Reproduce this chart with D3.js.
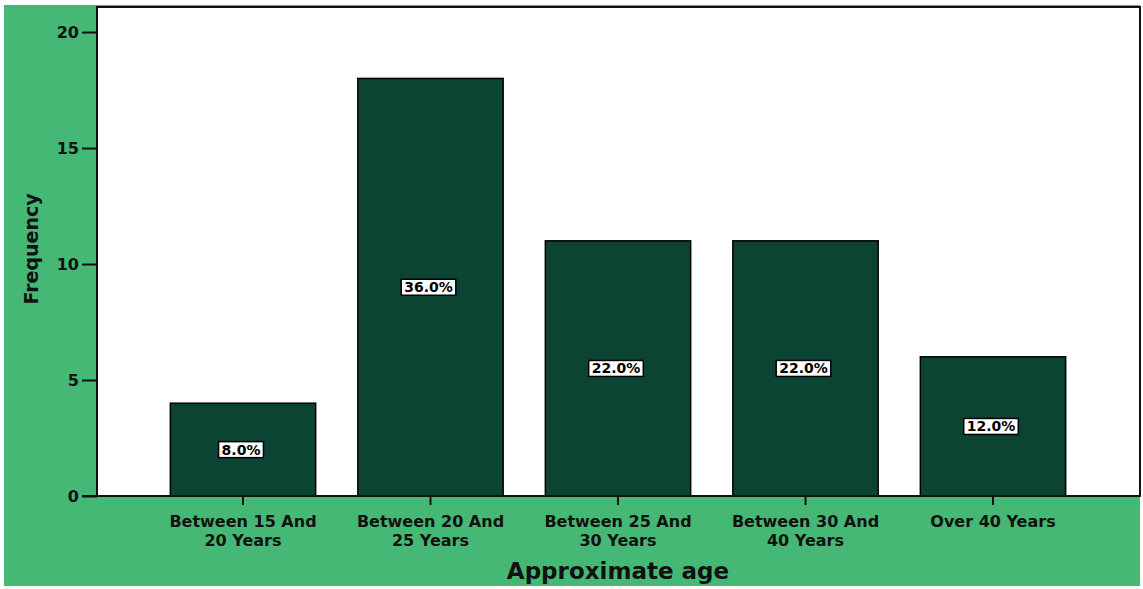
<!DOCTYPE html>
<html><head><meta charset="utf-8">
<script src="https://cdn.jsdelivr.net/npm/d3@7"></script>
<style>body{margin:0;background:#fff;}svg{display:block;}text{font-family:"DejaVu Sans",sans-serif;font-weight:bold;}</style>
</head><body>
<svg id="c" width="1143" height="589"></svg>
<script>
const categories = [["Between 15 And","20 Years"],["Between 20 And","25 Years"],["Between 25 And","30 Years"],["Between 30 And","40 Years"],["Over 40 Years"]];
const frequencies = [4, 18, 11, 11, 6];
const percentLabels = ["8.0%","36.0%","22.0%","22.0%","12.0%"];
const yTicks = [0, 5, 10, 15, 20];

const svg = d3.select("#c");
const green = "#44b874", barColor = "#0b4433";
svg.append("rect").attr("x",4).attr("y",5).attr("width",1136).attr("height",581).attr("fill",green);

const plot = {l:97, t:7, r:1140, b:496};
const y = d3.scaleLinear().domain([0, 21.08]).range([plot.b, plot.t]);
const x = d3.scaleBand().domain(d3.range(categories.length)).range([149.25, 1086.75]).paddingInner(0.225).paddingOuter(0.1125);

svg.append("rect").attr("x",plot.l).attr("y",plot.t).attr("width",plot.r-plot.l).attr("height",plot.b-plot.t)
  .attr("fill","#fff").attr("stroke","#111").attr("stroke-width",2);

// bars
svg.selectAll("rect.bar").data(frequencies).join("rect").attr("class","bar")
  .attr("x",(d,i)=>x(i)).attr("y",d=>y(d)).attr("width",x.bandwidth()).attr("height",d=>y(0)-y(d))
  .attr("fill",barColor).attr("stroke","#000").attr("stroke-width",1.5);

// percentage labels
const lab = svg.selectAll("g.lab").data(frequencies).join("g").attr("class","lab")
  .attr("transform",(d,i)=>`translate(${x(i)+x.bandwidth()/2 - 2},${(y(d)+y(0))/2})`);
lab.each(function(d,i){
  const g = d3.select(this);
  const t = g.append("text").attr("text-anchor","middle").attr("dy","0.36em").attr("font-size",14).attr("fill","#000").text(percentLabels[i]);
  const bb = t.node().getBBox();
  g.insert("rect","text").attr("x",bb.x-3).attr("y",bb.y).attr("width",bb.width+6).attr("height",bb.height)
    .attr("fill","#fff").attr("stroke","#000").attr("stroke-width",1.5);
});

// y axis
const yAxis = d3.axisLeft(y).tickValues(yTicks).tickSize(15).tickPadding(3);
const gy = svg.append("g").attr("transform",`translate(${plot.l},0)`).call(yAxis);
gy.select(".domain").remove();
gy.selectAll("line").attr("stroke","#111").attr("stroke-width",2);
gy.selectAll("text").attr("font-size",16).attr("fill","#111").attr("font-family","DejaVu Sans").attr("font-weight","bold");

// x axis
const xAxis = d3.axisBottom(x).tickSize(9).tickFormat("");
const gx = svg.append("g").attr("transform",`translate(0,${plot.b})`).call(xAxis);
gx.select(".domain").remove();
gx.selectAll("line").attr("stroke","#111").attr("stroke-width",2);
svg.append("line").attr("x1",82).attr("x2",plot.r).attr("y1",plot.b).attr("y2",plot.b).attr("stroke","#111").attr("stroke-width",2);

categories.forEach((lines,i)=>{
  const t = svg.append("text").attr("text-anchor","middle").attr("font-size",16).attr("fill","#111")
    .attr("x",x(i)+x.bandwidth()/2).attr("y",527);
  lines.forEach((ln,j)=>t.append("tspan").attr("x",x(i)+x.bandwidth()/2).attr("dy",j?19:0).text(ln));
});

svg.append("text").attr("x",618).attr("y",579).attr("text-anchor","middle").attr("font-size",23).attr("fill","#111").text("Approximate age");
svg.append("text").attr("transform","translate(38,249) rotate(-90)").attr("text-anchor","middle").attr("font-size",19).attr("fill","#111").text("Frequency");
</script>
</body></html>
